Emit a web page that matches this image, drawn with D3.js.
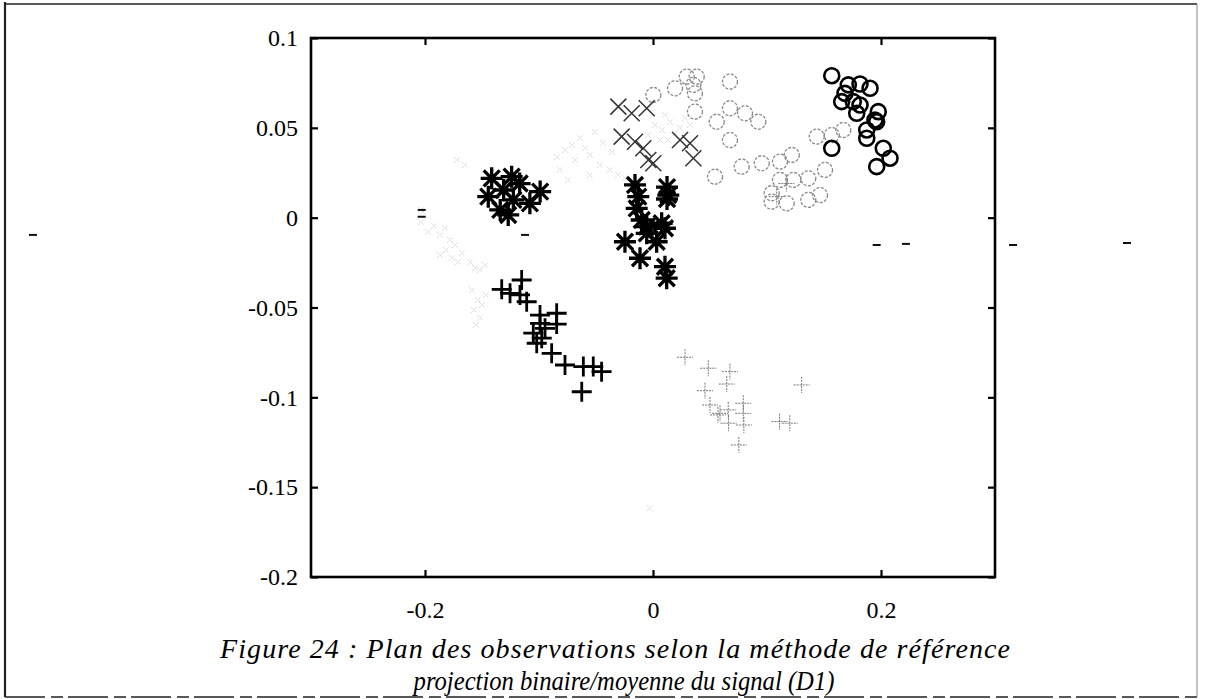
<!DOCTYPE html>
<html><head><meta charset="utf-8">
<script src="https://cdn.jsdelivr.net/npm/d3@7"></script>
<style>body{margin:0;background:#fff}svg{display:block}</style>
</head><body>
<svg id="c" width="1214" height="699"></svg>
<script>
// ---- data ----
const xTicks = [-0.2, 0, 0.2];
const yTicks = [0.1, 0.05, 0, -0.05, -0.1, -0.15, -0.2];
const xTickLabels = ["-0.2", "0", "0.2"];
const yTickLabels = ["0.1", "0.05", "0", "-0.05", "-0.1", "-0.15", "-0.2"];
const captionLines = ["Figure 24 : Plan des observations selon la méthode de référence",
                      "projection binaire/moyenne du signal (D1)"];

// bold asterisks
const starX = [-0.1415,-0.124,-0.099,-0.1445,-0.131,-0.1225,-0.134,-0.127,-0.108,-0.117,
               -0.0158,-0.0129,0.0134,0.0123,0.0123,-0.0143,-0.0099,0.0076,-0.0055,-0.0246,-0.0114,0.0032,-0.0055,0.0105,0.0105,0.012];
const starY = [0.0219,0.0228,0.0145,0.0117,0.0154,0.0099,0.0043,0.0015,0.008,0.019,
               0.0182,0.0117,0.0126,0.017,0.0104,0.0052,-0.0013,-0.0031,-0.0087,-0.0134,-0.0226,-0.0134,-0.005,-0.0059,-0.0273,-0.0337];
// bold plus
const plusX = [-0.1152,-0.1327,-0.1254,-0.1167,-0.1108,-0.0991,-0.0845,-0.0845,-0.0991,-0.105,-0.0976,-0.102,-0.0947,-0.0889,-0.0772,-0.0611,-0.0524,-0.0451,-0.0625];
const plusY = [-0.0347,-0.0399,-0.0421,-0.043,-0.0468,-0.0542,-0.0532,-0.0592,-0.0588,-0.0643,-0.0671,-0.0699,-0.0616,-0.0755,-0.082,-0.0829,-0.0829,-0.0857,-0.0969];
// bold circles
const circX = [0.1568,0.1713,0.1816,0.1904,0.1684,0.1655,0.1757,0.1816,0.1787,0.1976,0.1947,0.1962,0.1875,0.1875,0.1568,0.202,0.2079,0.1962];
const circY = [0.079,0.0739,0.0744,0.072,0.0692,0.0646,0.0646,0.0627,0.0581,0.059,0.0544,0.0534,0.0488,0.0442,0.0386,0.0386,0.0331,0.0284];
// light grey circles
const gCircX = [0.0003,0.0193,0.0296,0.0354,0.0383,0.0368,0.0675,0.0368,0.0675,0.0807,0.0924,0.0559,0.0675,0.0544,0.0778,0.0954,0.1114,0.1217,0.1114,0.1231,0.1362,0.1509,0.1041,0.1173,0.1041,0.1362,0.1465,0.1436,0.1568,0.1669];
const gCircY = [0.0683,0.072,0.0785,0.0739,0.0785,0.0692,0.0757,0.059,0.0609,0.0581,0.0534,0.0534,0.0432,0.0228,0.0284,0.0303,0.0312,0.0349,0.021,0.021,0.0219,0.0266,0.0136,0.008,0.0089,0.0099,0.0126,0.0451,0.046,0.0488];
// crosses
const crossX = [-0.0304,-0.0187,-0.0055,-0.0275,-0.0158,-0.0085,0.0003,-0.0041,0.0354,0.0325,0.0237];
const crossY = [0.0618,0.0581,0.0609,0.0451,0.0423,0.0386,0.0303,0.0321,0.0331,0.0414,0.0432];
// light grey plus
const gPlusX = [0.0281,0.0485,0.0675,0.0647,0.0456,0.05,0.066,0.0792,0.0792,0.0588,0.0663,0.0797,0.057,0.12,0.111,0.0753,0.1304,0.1085,0.117];
const gPlusY = [-0.0777,-0.0838,-0.0857,-0.0926,-0.0963,-0.1043,-0.107,-0.1033,-0.1089,-0.1089,-0.1144,-0.1154,-0.1098,-0.1144,-0.1135,-0.1265,-0.0931,0.0117,0.019];
// faint stipple series
const dotX = [-0.2035,-0.2018,-0.2035,-0.1974,-0.1921,-0.1868,-0.1825,-0.1781,-0.1737,-0.1816,-0.1763,-0.1711,-0.1868,-0.1675,-0.1605,-0.1561,-0.1518,-0.1474,-0.1588,-0.1535,-0.157,-0.1518,-0.1553,-0.15,-0.1465,
              -0.0842,-0.0772,-0.0711,-0.064,-0.0596,-0.0684,-0.0553,-0.0509,-0.0439,-0.036,-0.0465,-0.0377,-0.0307,-0.0246,-0.0816,-0.0746,-0.0553,-0.1719,-0.1649,
              0.0018,0.0079,0.0149,0.0193,0.0132,0.0237,0.0281,0.0061,-0.0044,0.0325,0.0105,-0.003];
const dotY = [0.0043,0.0032,-0.0024,-0.008,-0.0046,-0.0096,-0.0057,-0.0124,-0.0152,-0.018,-0.0224,-0.0247,-0.0208,-0.0196,-0.0247,-0.028,-0.0291,-0.0263,-0.0403,-0.0458,-0.0514,-0.0558,-0.0597,-0.0486,-0.043,
              0.0338,0.0377,0.0405,0.0444,0.0388,0.0321,0.0349,0.0477,0.0416,0.0366,0.0293,0.0266,0.0238,0.0221,0.0266,0.021,0.0238,0.0321,0.0293,
              0.0516,0.0488,0.0533,0.0471,0.0432,0.0499,0.0555,0.0432,0.046,0.0516,0.0572,-0.1617];
// small dark marks (scan specks)
const speckX = [-0.2029,-0.2029,-0.1123,0.1962,0.2219,0.3158,0.4158,-0.5439];
const speckY = [0.0043,0.0005,-0.0096,-0.0152,-0.0146,-0.0152,-0.0141,-0.0096];

// ---- layout ----
const svg = d3.select("#c");
const L = 311, R = 995, T = 38, B = 577;
const x = d3.scaleLinear().domain([-0.3, 0.3]).range([L, R]);
const y = d3.scaleLinear().domain([-0.2, 0.1]).range([B, T]);
const font = "'Liberation Serif','Times New Roman',serif";

// outer figure border (left, top, bottom, right)
const border = svg.append("g").attr("stroke","#222").attr("fill","none");
border.append("path").attr("d","M5,2V697").attr("stroke-width",2.2);
border.append("path").attr("d","M5,4H1197").attr("stroke-width",1.4);
border.append("path").attr("d","M5,697H1197").attr("stroke-width",1.4).attr("stroke-dasharray","40,6,12,5");
border.append("path").attr("d","M1197,4V697").attr("stroke-width",1).attr("stroke","#888");

const zip = (a,b)=>a.map((v,i)=>[v,b[i]]);
const g = svg.append("g");

// faint stipple: tiny grey crosses
g.selectAll(".dot").data(zip(dotX,dotY)).join("path")
  .attr("transform",d=>`translate(${x(d[0])},${y(d[1])})`)
  .attr("d","M-3,-3L3,3M-3,3L3,-3")
  .attr("stroke","#c4c4c4").attr("stroke-width",0.9).attr("stroke-dasharray","1,1").attr("fill","none");

// light grey plus
g.selectAll(".gp").data(zip(gPlusX,gPlusY)).join("path")
  .attr("transform",d=>`translate(${x(d[0])},${y(d[1])})`)
  .attr("d","M-8,0L8,0M0,-8L0,8")
  .attr("stroke","#777").attr("stroke-width",1).attr("stroke-dasharray","2,1").attr("fill","none");

// grey circles
g.selectAll(".gc").data(zip(gCircX,gCircY)).join("circle")
  .attr("cx",d=>x(d[0])).attr("cy",d=>y(d[1])).attr("r",7.5)
  .attr("fill","none").attr("stroke","#8a8a8a").attr("stroke-width",1.3).attr("stroke-dasharray","3,1.5");

// crosses
g.selectAll(".cr").data(zip(crossX,crossY)).join("path")
  .attr("transform",d=>`translate(${x(d[0])},${y(d[1])})`)
  .attr("d","M-8,-8L8,8M-8,8L8,-8")
  .attr("stroke","#333").attr("stroke-width",1.5).attr("fill","none");

// bold circles
g.selectAll(".bc").data(zip(circX,circY)).join("circle")
  .attr("cx",d=>x(d[0])).attr("cy",d=>y(d[1])).attr("r",7.5)
  .attr("fill","none").attr("stroke","#000").attr("stroke-width",2.6);

// bold plus
g.selectAll(".bp").data(zip(plusX,plusY)).join("path")
  .attr("transform",d=>`translate(${x(d[0])},${y(d[1])})`)
  .attr("d","M-10,0L10,0M0,-10L0,10")
  .attr("stroke","#000").attr("stroke-width",2.8).attr("fill","none");

// bold asterisks
g.selectAll(".st").data(zip(starX,starY)).join("path")
  .attr("transform",d=>`translate(${x(d[0])},${y(d[1])})`)
  .attr("d","M-11,0L11,0M0,-11L0,11M-8,-8L8,8M-8,8L8,-8")
  .attr("stroke","#000").attr("stroke-width",3.3).attr("fill","none");

// specks
g.selectAll(".sp").data(zip(speckX,speckY)).join("path")
  .attr("transform",d=>`translate(${x(d[0])},${y(d[1])})`)
  .attr("d","M-4,0L4,0")
  .attr("stroke","#111").attr("stroke-width",2).attr("fill","none");

// axes (inward ticks on all sides)
const axB = svg.append("g").attr("transform",`translate(0,${B})`)
  .call(d3.axisBottom(x).tickValues(xTicks).tickSize(-7).tickPadding(24).tickFormat((d,i)=>xTickLabels[i]));
const axT = svg.append("g").attr("transform",`translate(0,${T})`)
  .call(d3.axisTop(x).tickValues(xTicks).tickSize(-7).tickFormat(""));
const axL = svg.append("g").attr("transform",`translate(${L},0)`)
  .call(d3.axisLeft(y).tickValues(yTicks).tickSize(-7).tickPadding(13).tickFormat((d,i)=>yTickLabels[i]));
const axR = svg.append("g").attr("transform",`translate(${R},0)`)
  .call(d3.axisRight(y).tickValues(yTicks).tickSize(-7).tickFormat(""));
[axB,axT,axL,axR].forEach(a=>{
  a.select(".domain").remove();
  a.selectAll("line").attr("stroke","#000").attr("stroke-width",2.2);
  a.selectAll("text").attr("font-family",font).attr("font-size",24).attr("fill","#000");
});
axB.selectAll("text").attr("dy","0.71em");

// frame
svg.append("rect").attr("x",L).attr("y",T).attr("width",R-L).attr("height",B-T)
  .attr("fill","none").attr("stroke","#000").attr("stroke-width",2.6);

// caption
const cap = svg.selectAll(".cap").data(captionLines).join("text")
  .attr("font-family",font).attr("font-style","italic").attr("fill","#000").text(d=>d);
cap.filter((d,i)=>i===0).attr("x",220).attr("y",658).attr("font-size",28)
  .attr("textLength",790).attr("lengthAdjust","spacing");
cap.filter((d,i)=>i===1).attr("x",624).attr("y",690).attr("font-size",28)
  .attr("text-anchor","middle").attr("transform","translate(624,0) scale(0.88,1) translate(-624,0)");
</script>
</body></html>
